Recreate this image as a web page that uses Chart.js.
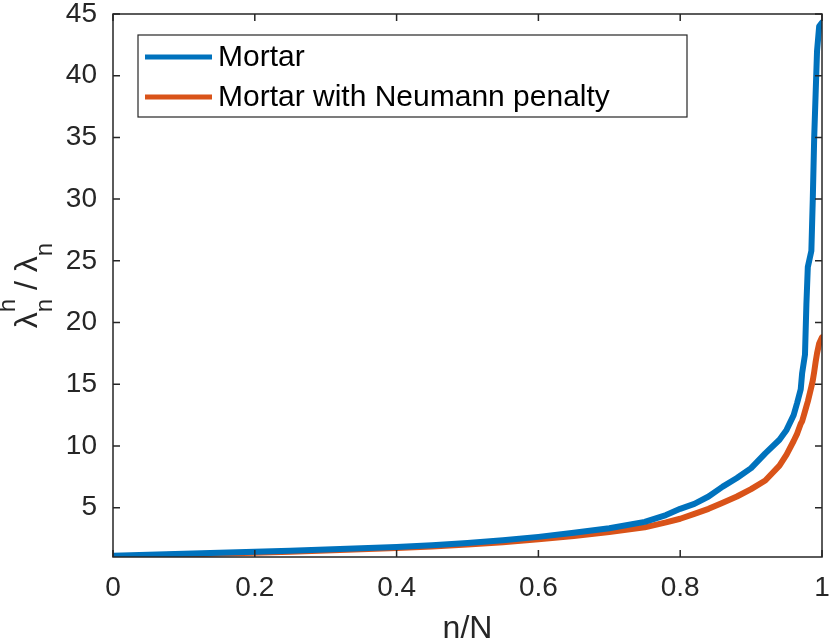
<!DOCTYPE html>
<html>
<head>
<meta charset="utf-8">
<script src="https://cdn.jsdelivr.net/npm/chart.js@4.4.1/dist/chart.umd.min.js"></script>
<style>
  html, body { margin: 0; padding: 0; background: #fff; }
  #wrap { position: relative; width: 830px; height: 644px; }
</style>
</head>
<body>
<div id="wrap"><canvas id="ratioChart" width="830" height="644"></canvas></div>
<script>
// values (n/N on x, lambda_h / lambda on y)
const nOverN = [0, 0.05, 0.1, 0.15, 0.2, 0.25, 0.3, 0.35, 0.4, 0.45, 0.5, 0.55, 0.6, 0.65, 0.7, 0.75,
  0.78, 0.8, 0.82, 0.84, 0.86, 0.88, 0.9, 0.92, 0.94, 0.95, 0.96, 0.965, 0.97, 0.972, 0.976, 0.978,
  0.98, 0.985, 0.987, 0.989, 0.991, 0.993, 0.996, 1.0];
const mortar = [1.1, 1.18, 1.26, 1.34, 1.42, 1.5, 1.6, 1.7, 1.81, 1.95, 2.13, 2.36, 2.63, 2.96, 3.33, 3.85,
  4.4, 4.9, 5.3, 5.9, 6.7, 7.4, 8.2, 9.4, 10.5, 11.3, 12.5, 13.5, 14.6, 15.9, 17.4, 21.5,
  24.5, 25.8, 30, 35, 38.5, 42, 44, 44.3];
const mortarPenalty = [1.05, 1.13, 1.2, 1.28, 1.35, 1.43, 1.52, 1.62, 1.72, 1.86, 2.02, 2.2, 2.43, 2.7, 3.03, 3.4,
  3.8, 4.1, 4.5, 4.9, 5.4, 5.9, 6.5, 7.2, 8.4, 9.3, 10.4, 11.0, 11.8, 12.0, 12.8, 13.2,
  13.6, 14.8, 15.3, 16.0, 16.8, 17.5, 18.3, 18.8];
const seriesNames = ['Mortar', 'Mortar with Neumann penalty'];
const seriesColors = ['#0072BD', '#D95319'];
const xTicks = [0, 0.2, 0.4, 0.6, 0.8, 1];
const yTicks = [5, 10, 15, 20, 25, 30, 35, 40, 45];
const xTitle = 'n/N';

const FONT = '"Liberation Sans", Arial, Helvetica, sans-serif';
const AXIS_COLOR = '#262626';

// box, inward ticks, legend and axis titles drawn the matlab way
const matlabFrame = {
  id: 'matlabFrame',
  afterDatasetsDraw(chart) {
    const { ctx, chartArea: { left, right, top, bottom }, scales: { x, y } } = chart;
    ctx.save();
    ctx.strokeStyle = AXIS_COLOR;
    ctx.lineWidth = 1.5;
    ctx.strokeRect(left, top, right - left, bottom - top);
    ctx.beginPath();
    xTicks.forEach(v => {
      const px = x.getPixelForValue(v);
      ctx.moveTo(px, bottom); ctx.lineTo(px, bottom - 7);
      ctx.moveTo(px, top); ctx.lineTo(px, top + 7);
    });
    yTicks.forEach(v => {
      const py = y.getPixelForValue(v);
      ctx.moveTo(left, py); ctx.lineTo(left + 7, py);
      ctx.moveTo(right, py); ctx.lineTo(right - 7, py);
    });
    ctx.stroke();

    // legend
    ctx.fillStyle = '#fff';
    ctx.fillRect(138, 35, 549, 82);
    ctx.lineWidth = 1.2;
    ctx.strokeStyle = AXIS_COLOR;
    ctx.strokeRect(138, 35, 549, 82);
    ctx.font = '30px ' + FONT;
    ctx.textBaseline = 'middle';
    ctx.textAlign = 'left';
    chart.data.datasets.forEach((ds, i) => {
      const ly = 57 + i * 40;
      ctx.strokeStyle = ds.borderColor;
      ctx.lineWidth = 5;
      ctx.beginPath();
      ctx.moveTo(145, ly); ctx.lineTo(212, ly);
      ctx.stroke();
      ctx.fillStyle = '#000';
      ctx.fillText(ds.label, 218, ly + 1);
    });

    // x title
    ctx.fillStyle = AXIS_COLOR;
    ctx.font = '32px ' + FONT;
    ctx.textAlign = 'center';
    ctx.textBaseline = 'alphabetic';
    ctx.fillText(xTitle, (left + right) / 2, 638);

    // y title: lambda^h_n / lambda_n
    const big = '32px ' + FONT, small = '24px ' + FONT;
    const parts = [
      { t: '\u03bb', f: big, dy: 0 },
      { t: 'h', f: small, dy: -22, stack: 'n' },
      { t: ' / ', f: big, dy: 0 },
      { t: '\u03bb', f: big, dy: 0 },
      { t: 'n', f: small, dy: 15 }
    ];
    let total = 0;
    parts.forEach(p => { ctx.font = p.f; p.w = ctx.measureText(p.t).width; total += p.w; });
    ctx.translate(37, (top + bottom) / 2);
    ctx.rotate(-Math.PI / 2);
    ctx.textAlign = 'left';
    let cx = -total / 2;
    parts.forEach(p => {
      ctx.font = p.f;
      ctx.fillText(p.t, cx, p.dy);
      if (p.stack) ctx.fillText(p.stack, cx, 15);
      cx += p.w;
    });
    ctx.restore();
  }
};

const ctx = document.getElementById('ratioChart').getContext('2d');
const ratioChart = new Chart(ctx, {
  type: 'line',
  data: {
    datasets: [
      {
        label: seriesNames[0],
        data: nOverN.map((v, i) => ({ x: v, y: mortar[i] })),
        borderColor: seriesColors[0],
        borderWidth: 6
      },
      {
        label: seriesNames[1],
        data: nOverN.map((v, i) => ({ x: v, y: mortarPenalty[i] })),
        borderColor: seriesColors[1],
        borderWidth: 6
      }
    ]
  },
  options: {
    responsive: false,
    animation: false,
    devicePixelRatio: 1,
    layout: { padding: { left: 0, right: 8, top: 14, bottom: 0 } },
    elements: {
      point: { radius: 0 },
      line: { tension: 0, borderJoinStyle: 'round', borderCapStyle: 'round', fill: false }
    },
    plugins: { legend: { display: false }, tooltip: { enabled: false } },
    scales: {
      x: {
        type: 'linear',
        min: 0,
        max: 1,
        grid: { display: false, drawTicks: false, tickLength: 0 },
        border: { display: false },
        afterBuildTicks: s => { s.ticks = xTicks.map(v => ({ value: v })); },
        afterFit: s => { s.height = 87; s.paddingLeft = 0; s.paddingRight = 0; },
        ticks: {
          padding: 14,
          color: AXIS_COLOR,
          font: { family: FONT, size: 28 },
          maxRotation: 0,
          callback: v => String(v)
        }
      },
      y: {
        type: 'linear',
        min: 1,
        max: 45,
        grid: { display: false, drawTicks: false, tickLength: 0 },
        border: { display: false },
        afterBuildTicks: s => { s.ticks = yTicks.map(v => ({ value: v })); },
        afterFit: s => { s.width = 113; s.paddingTop = 0; s.paddingBottom = 0; },
        ticks: {
          padding: 16,
          color: AXIS_COLOR,
          font: { family: FONT, size: 28 },
          callback: v => String(v)
        }
      }
    }
  },
  plugins: [matlabFrame]
});
</script>
</body>
</html>
